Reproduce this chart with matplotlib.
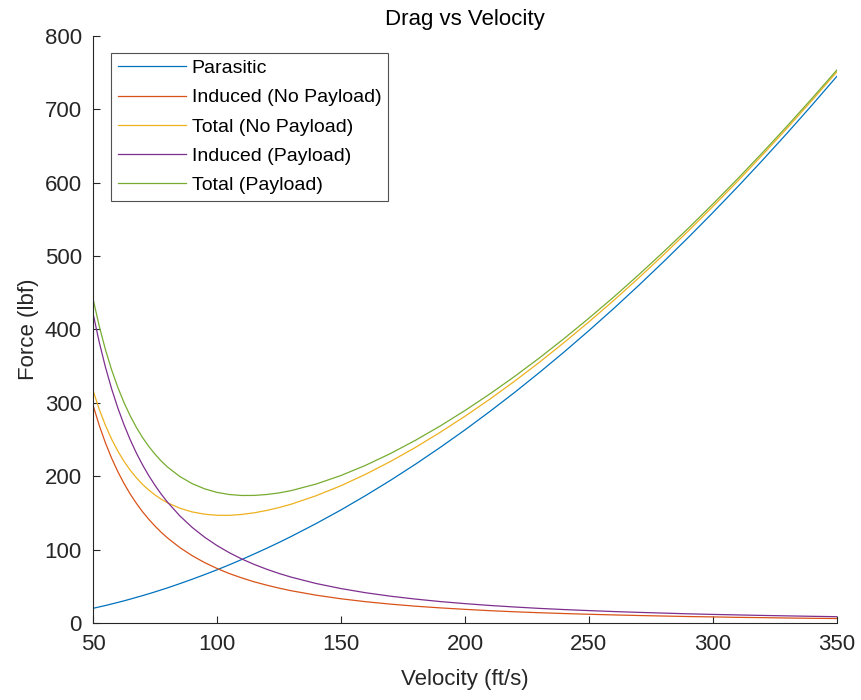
import numpy as np
from matplotlib import pyplot as plt

# velocity grid (ft/s)
velocity = [50, 52.5, 55, 57.5, 60, 62.5, 65, 67.5, 70, 72.5, 75, 77.5, 80, 85, 90, 95, 100,
            105, 110, 115, 120, 125, 130, 140, 150, 160, 170, 180, 190, 200,
            210, 220, 230, 240, 250, 260, 270, 280, 290, 300,
            310, 320, 330, 340, 350]

parasitic = [20.0, 21.9, 23.8, 25.9, 28.0, 30.2, 32.5, 34.9, 37.3, 39.8, 42.4, 45.1, 47.8,
             53.6, 59.6, 65.9, 72.4,
             79.3, 86.5, 94.0, 101.7, 109.7, 118.0, 135.5, 154.0, 173.7, 194.4, 216.2, 239.1, 263.0,
             288.0, 314.0, 341.1, 369.2, 398.3, 428.4, 459.6, 491.8, 524.9, 559.1,
             594.2, 630.4, 667.5, 705.6, 744.7]

induced_no_payload = [297.0, 269.4, 245.5, 224.6, 206.3, 190.1, 175.7, 163.0, 151.5, 141.3, 132.0,
                      123.6, 116.0, 102.8, 91.7, 82.3, 74.3,
                      67.3, 61.4, 56.1, 51.6, 47.5, 43.9, 37.9, 33.0, 29.0, 25.7, 22.9, 20.6, 18.6,
                      16.8, 15.3, 14.0, 12.9, 11.9, 11.0, 10.2, 9.5, 8.8, 8.3,
                      7.7, 7.3, 6.8, 6.4, 6.1]

induced_payload = [422.0, 382.8, 348.8, 319.1, 293.1, 270.1, 249.7, 231.5, 215.3, 200.7, 187.6,
                   175.6, 164.8, 146.0, 130.2, 116.9, 105.5,
                   95.7, 87.2, 79.8, 73.3, 67.5, 62.4, 53.8, 46.9, 41.2, 36.5, 32.6, 29.2, 26.4,
                   23.9, 21.8, 19.9, 18.3, 16.9, 15.6, 14.5, 13.5, 12.5, 11.7,
                   11.0, 10.3, 9.7, 9.1, 8.6]

x_ticks = [50, 100, 150, 200, 250, 300, 350]
y_ticks = [0, 100, 200, 300, 400, 500, 600, 700, 800]

# MATLAB default line colours
colors = ['#0072BD', '#D95319', '#EDB120', '#7E2F8E', '#77AC30']


if __name__ == '__main__':
    plt.rcParams['font.family'] = ['Liberation Sans', 'DejaVu Sans']

    total_no_payload = np.add(parasitic, induced_no_payload)
    total_payload = np.add(parasitic, induced_payload)

    fig = plt.figure(figsize=(8.61, 7.0), dpi=100)
    ax = fig.add_axes([0.108, 0.110, 0.864, 0.839])

    ax.plot(velocity, parasitic, color=colors[0], lw=0.9, label='Parasitic')
    ax.plot(velocity, induced_no_payload, color=colors[1], lw=0.9, label='Induced (No Payload)')
    ax.plot(velocity, total_no_payload, color=colors[2], lw=0.9, label='Total (No Payload)')
    ax.plot(velocity, induced_payload, color=colors[3], lw=0.9, label='Induced (Payload)')
    ax.plot(velocity, total_payload, color=colors[4], lw=0.9, label='Total (Payload)')

    ax.set_xlim(50, 350)
    ax.set_ylim(0, 800)
    ax.set_xticks(x_ticks)
    ax.set_yticks(y_ticks)

    for side in ['top', 'right']:
        ax.spines[side].set_visible(False)
    for side in ['left', 'bottom']:
        ax.spines[side].set_color('#262626')
        ax.spines[side].set_linewidth(0.8)
    ax.tick_params(direction='in', length=5, width=0.8, colors='#262626',
                   labelsize=16, pad=8)

    ax.set_title('Drag vs Velocity', fontsize=16, color='black', pad=8)
    ax.set_xlabel('Velocity (ft/s)', fontsize=16, color='#262626', labelpad=10)
    ax.set_ylabel('Force (lbf)', fontsize=16, color='#262626', labelpad=4)

    leg = ax.legend(loc='upper left', bbox_to_anchor=(0.024, 0.971), borderaxespad=0,
                    fontsize=14, frameon=True, fancybox=False, handlelength=3.5,
                    handletextpad=0.3, labelspacing=0.6, borderpad=0.35)
    leg.get_frame().set_edgecolor('#262626')
    leg.get_frame().set_linewidth(0.8)

    plt.savefig('out.png', dpi=100)
